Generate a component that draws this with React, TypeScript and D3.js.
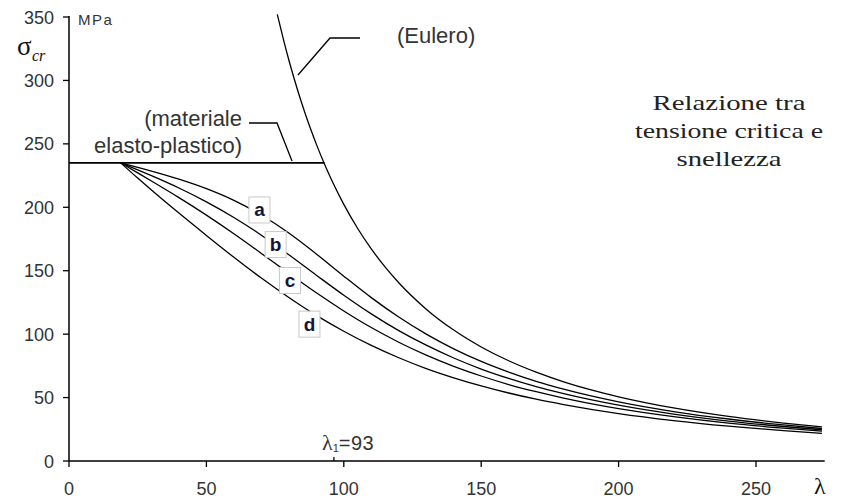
import React from 'react';
import * as d3 from 'd3';

// slenderness values (λ) at which the buckling curves were read
const lambdaPts = [18.8, 25, 30, 40, 50, 60, 70, 80, 90, 100, 110, 120, 130, 140, 150, 160, 170, 180, 200, 220, 240, 260, 274];
// critical stress (MPa) for buckling curves a, b, c, d
const curveA = [235, 231.5, 228.6, 222.2, 214.7, 205.5, 193.9, 179.7, 163.2, 145.7, 128.8, 113.5, 100.0, 88.4, 78.5, 70.1, 62.8, 56.6, 46.6, 39.0, 33.1, 28.4, 25.6];
const curveB = [235, 229.5, 224.9, 215.2, 204.3, 192.0, 178.0, 162.6, 146.5, 130.7, 116.0, 102.8, 91.3, 81.2, 72.5, 65.1, 58.6, 53.1, 44.0, 37.0, 31.5, 27.2, 24.6];
const curveC = [235, 227.1, 220.7, 207.6, 193.8, 179.1, 163.6, 147.9, 132.6, 118.3, 105.2, 93.6, 83.4, 74.6, 67.0, 60.3, 54.6, 49.6, 41.3, 35.0, 29.9, 25.9, 23.5];
const curveD = [235, 223.0, 213.6, 195.4, 177.8, 160.6, 144.2, 128.9, 114.8, 102.3, 91.1, 81.4, 72.9, 65.6, 59.2, 53.6, 48.7, 44.5, 37.4, 31.9, 27.5, 23.9, 21.8];
const curveNames = ['a', 'b', 'c', 'd'];

// Euler hyperbola
const eulerLambda = [75.8, 78, 80, 82, 84, 86, 88, 90, 93, 96, 100, 105, 110, 115, 120, 130, 140, 150, 160, 170, 180, 190, 200, 220, 240, 260, 274];
const eulerSigma = [352.1, 332.6, 316.1, 300.9, 286.7, 273.6, 261.3, 249.8, 233.9, 219.5, 202.3, 183.5, 167.2, 153.0, 140.5, 119.7, 103.2, 89.9, 79.0, 70.0, 62.4, 56.0, 50.6, 41.8, 35.1, 29.9, 26.9];

// elastic-plastic plateau
const plateauLambda = [0, 93];
const plateauSigma = [235, 235];

// axis ticks
const xTicks = [0, 50, 100, 150, 200, 250];
const yTicks = [0, 50, 100, 150, 200, 250, 300, 350];

// label anchors (in data units) for curve tags
const tagLambda = [69.3, 75.2, 80.4, 87.5];
const tagSigma = [197.9, 170.6, 142.3, 107.9];

const titleLines = ['Relazione tra', 'tensione critica e', 'snellezza'];

export default function App() {
  const W = 844, H = 501;
  const x = d3.scaleLinear().domain([0, 275]).range([69, 824.7]);
  const y = d3.scaleLinear().domain([0, 350]).range([461, 17]);

  const line = d3.line<[number, number]>()
    .x(d => x(d[0]))
    .y(d => y(d[1]))
    .curve(d3.curveMonotoneX);

  const series = [curveA, curveB, curveC, curveD];
  const sans = '"Liberation Sans", Arial, sans-serif';
  const serif = '"Liberation Serif", "Times New Roman", serif';
  const txt = '#333';

  const titleWidths = [153, 188, 105];

  return (
    <svg width={W} height={H} style={{ position: 'absolute', left: 0, top: 0, background: '#fff' }}>
      <rect x={0} y={0} width={W} height={H} fill="#fff" />

      {/* curves a-d */}
      {series.map((s, i) => (
        <path key={i} d={line(lambdaPts.map((l, j) => [l, s[j]]) as [number, number][]) || ''}
          fill="none" stroke="#000" strokeWidth={1.3} />
      ))}

      {/* Euler */}
      <path d={line(eulerLambda.map((l, j) => [l, eulerSigma[j]]) as [number, number][]) || ''}
        fill="none" stroke="#000" strokeWidth={1.3} />

      {/* plateau */}
      <line x1={x(plateauLambda[0])} y1={y(plateauSigma[0])} x2={x(plateauLambda[1])} y2={y(plateauSigma[1])}
        stroke="#000" strokeWidth={1.6} />

      {/* axes */}
      <line x1={x(0)} y1={y(0)} x2={x(275)} y2={y(0)} stroke="#000" strokeWidth={1.5} />
      <line x1={x(0)} y1={y(0)} x2={x(0)} y2={y(350) - 1} stroke="#000" strokeWidth={1.5} />
      {xTicks.map(t => (
        <g key={'x' + t}>
          <line x1={x(t)} x2={x(t)} y1={y(0)} y2={y(0) + 6} stroke="#000" strokeWidth={1.3} />
          <text x={x(t)} y={495} textAnchor="middle" fontFamily={sans} fontSize={18} fill={txt}>{t}</text>
        </g>
      ))}
      {yTicks.map(t => (
        <g key={'y' + t}>
          <line x1={x(0) - 6} x2={x(0)} y1={y(t)} y2={y(t)} stroke="#000" strokeWidth={1.3} />
          <text x={54} y={y(t) + 6.5} textAnchor="end" fontFamily={sans} fontSize={18} fill={txt}>{t}</text>
        </g>
      ))}

      {/* axis titles */}
      <text x={78} y={25} fontFamily={sans} fontSize={15} letterSpacing={1.5} fill={txt}>MPa</text>
      <text x={17} y={55} fontFamily={serif} fontSize={27} fill="#111">σ</text>
      <text x={32} y={61} fontFamily={serif} fontSize={16} fontStyle="italic" fill="#111">cr</text>
      <text x={814} y={494} fontFamily={serif} fontSize={24} fill="#111">λ</text>

      {/* lambda_1 marker */}
      <line x1={x(96.4)} x2={x(96.4)} y1={y(0) - 4} y2={y(0)} stroke="#000" strokeWidth={1.3} />
      <text x={322} y={450} fill={txt}>
        <tspan fontFamily={serif} fontSize={22}>λ</tspan>
        <tspan fontFamily={sans} fontSize={11} dy={2}>1</tspan>
        <tspan fontFamily={sans} fontSize={20} dy={-2} letterSpacing={0.5}>=93</tspan>
      </text>

      {/* Euler annotation */}
      <polyline points="298,75 330,38 360,38" fill="none" stroke="#000" strokeWidth={1.3} />
      <text x={397} y={43} fontFamily={sans} fontSize={22} fill={txt}>(Eulero)</text>

      {/* plastic annotation */}
      <polyline points="249,123 277,123 292,161" fill="none" stroke="#000" strokeWidth={1.3} />
      <text x={242} y={126} textAnchor="end" fontFamily={sans} fontSize={22} fill={txt}>(materiale</text>
      <text x={242} y={153} textAnchor="end" fontFamily={sans} fontSize={22} fill={txt}>elasto-plastico)</text>

      {/* curve tags */}
      {curveNames.map((n, i) => {
        const cx = x(tagLambda[i]);
        const cy = y(tagSigma[i]);
        return (
          <g key={n}>
            <rect x={cx - 10.5} y={cy - 13} width={21} height={26} fill="#fff" stroke="#c8c8c8" strokeWidth={1} />
            <text x={cx} y={cy + 6.5} textAnchor="middle" fontFamily={sans} fontWeight="bold" fontSize={19} fill="#14143a">{n}</text>
          </g>
        );
      })}

      {/* title */}
      {titleLines.map((t, i) => (
        <text key={i} x={729} y={110 + i * 28} textAnchor="middle" fontFamily={serif} fontSize={22}
          textLength={titleWidths[i]} lengthAdjust="spacingAndGlyphs" fill="#222">{t}</text>
      ))}
    </svg>
  );
}
